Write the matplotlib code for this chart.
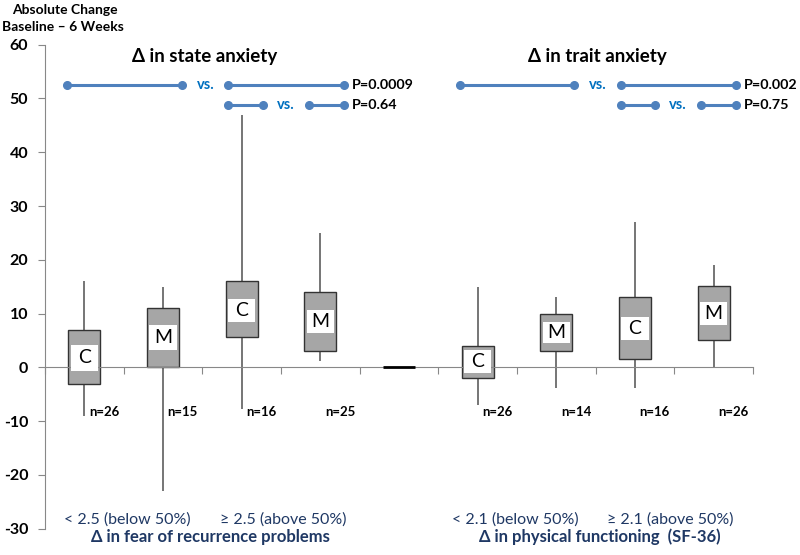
import numpy as np
import matplotlib.pyplot as plt

plt.rcParams['font.family'] = ['Lato', 'DejaVu Sans']
plt.rcParams['axes.unicode_minus'] = False

# box data
positions = [0, 1, 2, 3, 5, 6, 7, 8]
letters = ['C', 'M', 'C', 'M', 'C', 'M', 'C', 'M']
q1 = [-3, 0, 5.6, 3.1, -2, 3.1, 1.5, 5]
q3 = [7, 11, 16, 14, 4, 10, 13, 15.1]
band_lo = [-0.7, 3.2, 8.5, 6.3, -1, 4.6, 5.1, 7.9]
band_hi = [4.2, 7.9, 12.7, 10.6, 3.2, 8.5, 9.4, 12.2]
whisk_lo = [-9, -23, -7.8, 1.2, -7, -3.9, -3.9, 0]
whisk_hi = [16, 15, 47, 25, 15, 13, 27, 19]
n_vals = [26, 15, 16, 25, 26, 14, 16, 26]
gap_pos = 4  # empty middle category, drawn as a flat box at 0

panel_titles = ['Δ in state anxiety', 'Δ in trait anxiety']
p_values = [['P=0.0009', 'P=0.64'], ['P=0.002', 'P=0.75']]
group_labels = ['< 2.5 (below 50%)', '≥ 2.5 (above 50%)',
                '< 2.1 (below 50%)', '≥ 2.1 (above 50%)']
axis_titles = ['Δ in fear of recurrence problems',
               'Δ in physical functioning  (SF-36)']

navy = '#1F3864'
blue_line = '#4F81BD'
vs_blue = '#0070C0'
grey = '#888888'

fig = plt.figure(figsize=(8, 5.55), dpi=100)
ax = fig.add_axes([45 / 800, 1 - 528.7 / 555, 708 / 800, 484 / 555])
ax.set_xlim(-0.5, 8.5)
ax.set_ylim(-30, 60)

w = 0.41
pos = np.array(positions)
# whiskers
ax.vlines(pos, whisk_lo, whisk_hi, color='#505050', lw=1.1, zorder=1)
# boxes
ax.bar(pos, np.array(q3) - np.array(q1), bottom=q1, width=w,
       color='#A6A6A6', edgecolor='#333333', lw=1, zorder=2)
# white label bands
ax.bar(pos, np.array(band_hi) - np.array(band_lo), bottom=band_lo,
       width=w - 0.06, color='white', lw=0, zorder=3)
for x, lo, hi, let in zip(pos, band_lo, band_hi, letters):
    ax.text(x, (lo + hi) / 2, let, ha='center', va='center',
            fontsize=14, zorder=4)
for x, n in zip(pos, n_vals):
    ax.text(x + 0.06, -8.3, f'n={n}', ha='left', va='center',
            fontsize=9.5, fontweight='bold')
ax.hlines(0, gap_pos - w / 2, gap_pos + w / 2, color='black', lw=2, zorder=3)

# axes styling
for s in ['top', 'right']:
    ax.spines[s].set_visible(False)
ax.spines['bottom'].set_position(('data', 0))
ax.spines['left'].set_color(grey)
ax.spines['bottom'].set_color(grey)
ax.set_yticks(np.arange(-30, 61, 10))
ax.set_xticks(np.arange(-0.5, 8.6, 1))
ax.set_xticklabels([])
ax.tick_params(axis='y', direction='out', length=5, color=grey,
               labelsize=11.5, pad=7)
ax.tick_params(axis='x', direction='out', length=5, color=grey)
for lab in ax.get_yticklabels():
    lab.set_fontweight('bold')

fig.text(65 / 800, 1 - 10 / 555, 'Absolute Change', ha='center',
         va='center', fontsize=10, fontweight='bold')
fig.text(63 / 800, 1 - 27 / 555, 'Baseline – 6 Weeks', ha='center',
         va='center', fontsize=10, fontweight='bold')

# comparison bars
def seg(x0, x1, y):
    ax.plot([x0, x1], [y, y], color=blue_line, lw=2.2, marker='o',
            ms=5.5, clip_on=False, zorder=5)

for k, off in enumerate([0, 4.99]):
    ax.text(1.53 + off, 57.8, panel_titles[k], ha='center', va='center',
            fontsize=13.5, fontweight='bold')
    seg(-0.22 + off, 1.24 + off, 52.5)
    ax.text(1.54 + off, 52.5, 'vs.', color=vs_blue, ha='center',
            va='center', fontsize=10.5, fontweight='bold')
    seg(1.83 + off, 3.30 + off, 52.5)
    ax.text(3.40 + off, 52.5, p_values[k][0], ha='left', va='center',
            fontsize=10.3, fontweight='bold')
    seg(1.83 + off, 2.27 + off, 48.7)
    ax.text(2.56 + off, 48.7, 'vs.', color=vs_blue, ha='center',
            va='center', fontsize=10.5, fontweight='bold')
    seg(2.85 + off, 3.30 + off, 48.7)
    ax.text(3.40 + off, 48.7, p_values[k][1], ha='left', va='center',
            fontsize=10.3, fontweight='bold')

# bottom group labels
for x, lab in zip([0.55, 2.53, 5.48, 7.45], group_labels):
    fig.text((45 + (x + 0.5) * 78.67) / 800, 1 - 520 / 555, lab,
             ha='center', va='center', fontsize=11.5, color=navy)
for x, lab in zip([1.6, 6.55], axis_titles):
    fig.text((45 + (x + 0.5) * 78.67) / 800, 1 - 537 / 555, lab,
             ha='center', va='center', fontsize=12, color=navy,
             fontweight='bold')

fig.savefig('out.png', dpi=100)
